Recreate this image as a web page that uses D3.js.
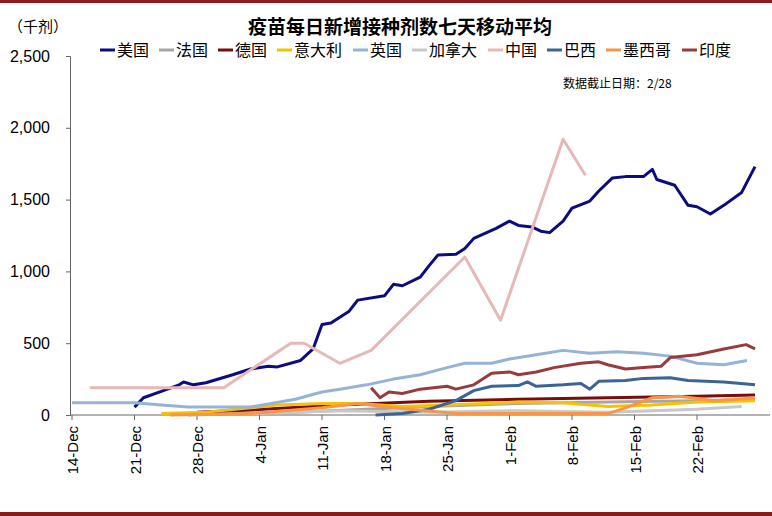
<!DOCTYPE html><html><head><meta charset="utf-8">
<script src="https://cdn.jsdelivr.net/npm/d3@7"></script>
<style>body{margin:0;background:#fff}text{font-family:"Noto Sans CJK SC",sans-serif}</style></head><body>
<svg id="c" width="772" height="516"></svg>
<script>
// values: [days since 14-Dec, thousand doses]
const tickLabels=["14-Dec","21-Dec","28-Dec","4-Jan","11-Jan","18-Jan","25-Jan","1-Feb","8-Feb","15-Feb","22-Feb"];
const yTicks=[0,500,1000,1500,2000,2500];
const names=["美国","法国","德国","意大利","英国","加拿大","中国","巴西","墨西哥","印度"];
const colors=["#0c0c7c","#a6a6a6","#7b0c0c","#f5c100","#95b3d7","#c8c8c8","#e6b8b7","#3a6496","#f79646","#963c3c"];
const usa=[[7,55],[8,120],[10,165],[12,210],[12.5,230],[13.6,210],[15,225],[18,280],[20,320],[22,340],[23,335],[25.6,380],[27,460],[28,630],[29,640],[31,720],[32,800],[35,830],[36,910],[37,900],[39,960],[40,1040],[41,1115],[43,1120],[44,1160],[45,1230],[47.5,1300],[49,1350],[50,1320],[51.5,1310],[52.5,1280],[53.5,1270],[55,1350],[56,1440],[58,1490],[59,1560],[60.5,1650],[62,1660],[64,1660],[65,1710],[65.5,1640],[67.5,1600],[69,1460],[70,1450],[71.5,1400],[73,1460],[75,1550],[76.5,1730]];
const france=[[13,0],[25,20],[33,40],[40,60],[50,80],[60,90],[70,100],[76.5,110]];
const germany=[[14,20],[20,35],[30,70],[40,95],[50,110],[60,120],[70,130],[76.5,140]];
const italy=[[10,10],[15,20],[20,50],[23,70],[28,80],[32,80],[37,60],[42,70],[50,90],[55,85],[60,60],[65,70],[70,90],[76.5,100]];
const uk=[[0,85],[7,85],[10,70],[13,55],[20,55],[25,110],[28,160],[30,180],[33,210],[36,250],[39,280],[42,330],[44,360],[47,360],[49,390],[52,420],[55,450],[58,430],[61,440],[64,430],[67,410],[70,360],[73,350],[75.6,380]];
const canada=[[20,10],[30,30],[40,20],[50,30],[60,20],[70,40],[75,60]];
const china=[[2,190],[17,190],[24.5,500],[26,500],[30,360],[33.5,450],[44,1100],[48,660],[55,1920],[57.5,1670]];
const brazil=[[34,0],[37,10],[40,40],[43,100],[45,170],[47,200],[50,205],[51,230],[52,200],[55,210],[57,220],[58,180],[59,235],[62,240],[64,255],[67,260],[69,240],[73,230],[76.5,210]];
const mexico=[[11,0],[20,10],[28,50],[32,80],[36,50],[43,10],[60,10],[62,50],[65,120],[68,130],[72,100],[76.5,120]];
const india=[[33.5,190],[34.5,120],[35.5,160],[37,150],[39,180],[42,200],[43,180],[45,210],[47,290],[49,300],[50,280],[52,300],[54,330],[57,360],[59,370],[60,350],[62,320],[64,330],[66,340],[67,400],[70,420],[73,460],[75.5,490],[76.5,460]];
const series=[usa,france,germany,italy,uk,canada,china,brazil,mexico,india];
const svg=d3.select("#c");
svg.append("rect").attr("x",0).attr("y",0).attr("width",772).attr("height",3).attr("fill","#8b1a1a");
svg.append("rect").attr("x",0).attr("y",512).attr("width",772).attr("height",4).attr("fill","#8b1a1a");
const x=d3.scaleLinear().domain([0,70]).range([72,697]);
const y=d3.scaleLinear().domain([0,2500]).range([415,56]);
svg.append("g").attr("transform","translate(70,0)").call(d3.axisLeft(y).tickValues(yTicks).tickFormat(d3.format(",")).tickSize(4))
 .call(g=>{g.select(".domain").attr("stroke","#666");g.selectAll("line").attr("stroke","#666");g.selectAll("text").attr("font-size",16).attr("fill","#000").attr("x",-20).style("font-family","Liberation Sans, Arial")});
svg.append("line").attr("x1",70).attr("x2",770).attr("y1",415).attr("y2",415).attr("stroke","#666");
tickLabels.forEach((t,i)=>{const xx=x(i*7);
 svg.append("line").attr("x1",xx).attr("x2",xx).attr("y1",415).attr("y2",420).attr("stroke","#666");
 svg.append("text").attr("transform",`translate(${xx+6},426) rotate(-90)`).attr("text-anchor","end").attr("font-size",15).style("font-family","Liberation Sans, Arial").text(t);});
const line=d3.line().x(d=>x(d[0])).y(d=>y(d[1]));
series.forEach((s,i)=>svg.append("path").attr("d",line(s)).attr("fill","none").attr("stroke",colors[i]).attr("stroke-width",3).attr("stroke-linejoin","round"));
svg.append("text").attr("x",400).attr("y",34).attr("text-anchor","middle").attr("font-size",19).attr("font-weight","bold").text("疫苗每日新增接种剂数七天移动平均");
svg.append("text").attr("x",8).attr("y",32).attr("font-size",15).text("（千剂）");
let lx=100;
names.forEach((n,i)=>{svg.append("line").attr("x1",lx).attr("x2",lx+15).attr("y1",50).attr("y2",50).attr("stroke",colors[i]).attr("stroke-width",3);
 svg.append("text").attr("x",lx+17).attr("y",56).attr("font-size",16).text(n);lx+=15+2+n.length*17+8;});
svg.append("text").attr("x",563).attr("y",88).attr("font-size",12).text("数据截止日期：2/28");
</script></body></html>
